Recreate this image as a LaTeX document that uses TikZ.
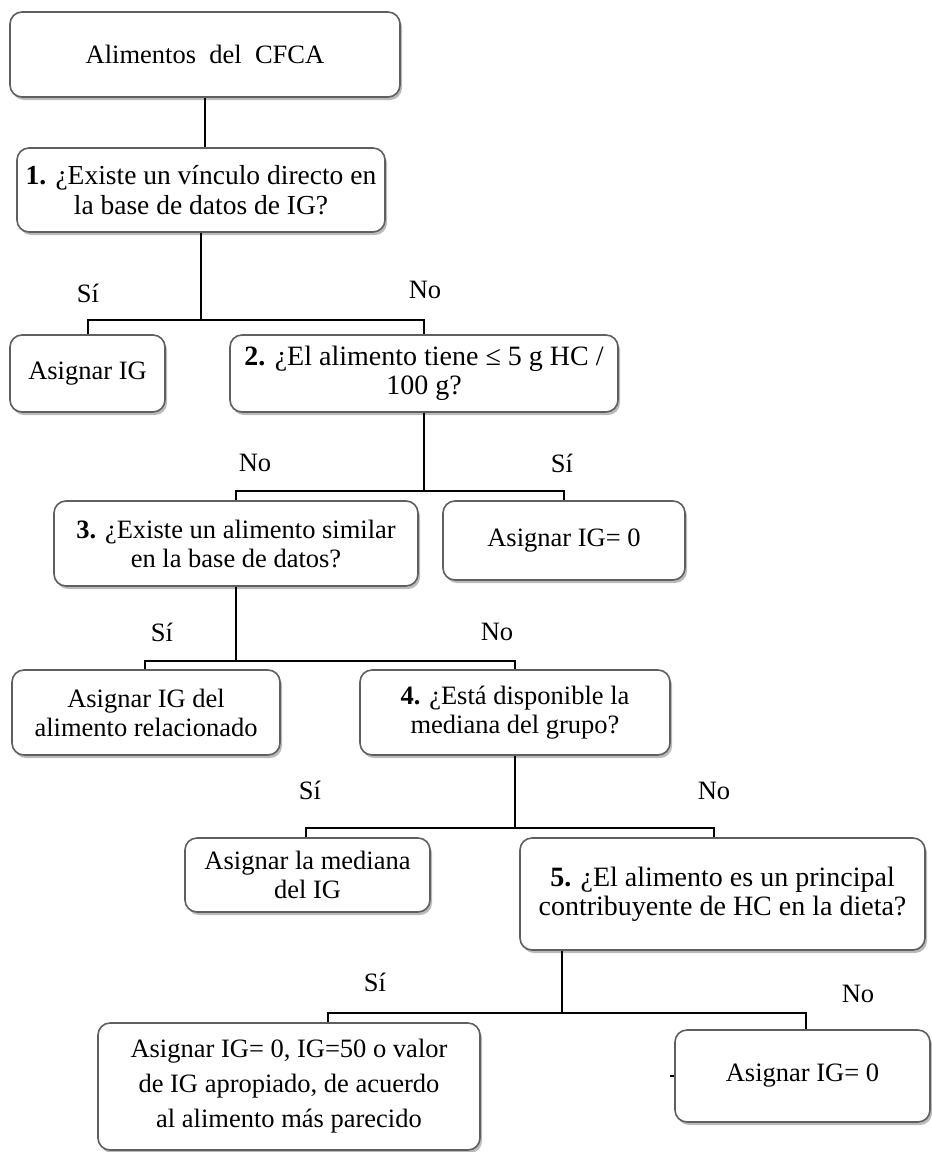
\documentclass[tikz,border=0pt]{standalone}
\usepackage{fontspec}
\setmainfont{Liberation Serif}
\usetikzlibrary{shadows}
\definecolor{bordecaja}{RGB}{95,95,95}

\begin{document}
\begin{tikzpicture}[x=1pt,y=-1pt,
  every node/.style={font=\fontsize{26.5}{29}\selectfont},
  caja/.style={draw=bordecaja,line width=1.6pt,rounded corners=12pt,
    fill=white,align=center,inner sep=2pt,
    drop shadow={shadow xshift=2pt,shadow yshift=-3pt,opacity=0.45,
      fill=black!60}},
  linea/.style={black,line width=1.8pt}]
\useasboundingbox (0,0) rectangle (932,1152);
% cajas
\node[caja,minimum width=390pt,minimum height=85pt] (nA) at (205,54.5)
  {Alimentos\ \ del\ \ CFCA};
\node[caja,minimum width=368pt,minimum height=84pt,
  font=\fontsize{27.5}{30}\selectfont] (n1) at (201,190)
  {\textbf{1.} ¿Existe un vínculo directo en\\ la base de datos de IG?};
\node[caja,minimum width=155pt,minimum height=77pt] (nS1) at (87.5,373.5)
  {Asignar IG};
\node[caja,minimum width=388pt,minimum height=77pt,
  font=\fontsize{28}{29}\selectfont] (n2) at (424,373.5)
  {\textbf{2.} ¿El alimento tiene ≤ 5 g HC /\\ 100 g?};
\node[caja,minimum width=364pt,minimum height=85pt] (n3) at (236,543.5)
  {\textbf{3.} ¿Existe un alimento similar\\ en la base de datos?};
\node[caja,minimum width=242pt,minimum height=79pt] (nS2) at (564,540.5)
  {Asignar IG= 0};
\node[caja,minimum width=268pt,minimum height=85pt] (nS3) at (146,712.5)
  {Asignar IG del\\ alimento relacionado};
\node[caja,minimum width=310pt,minimum height=85pt] (n4) at (515,712.5)
  {\textbf{4.} ¿Está disponible la\\ mediana del grupo?};
\node[caja,minimum width=245pt,minimum height=74pt] (nS4) at (307.5,875)
  {Asignar la mediana\\ del IG};
\node[caja,minimum width=405pt,minimum height=112pt,
  font=\fontsize{28}{29}\selectfont] (n5) at (722.5,894)
  {\textbf{5.} ¿El alimento es un principal\\ contribuyente de HC en la dieta?};
\node[caja,minimum width=382pt,minimum height=127pt,
  font=\fontsize{26.5}{35}\selectfont] (nS5) at (289,1086.5)
  {Asignar IG= 0, IG=50 o valor\\ de IG apropiado, de acuerdo\\ al alimento más parecido};
\node[caja,minimum width=255pt,minimum height=92pt] (nN5) at (802.5,1076)
  {Asignar IG= 0};
% barras
\coordinate (b1l) at (88,320); \coordinate (b1r) at (424,320);
\coordinate (b2l) at (236,491); \coordinate (b2r) at (564,491);
\coordinate (b3l) at (145,661); \coordinate (b3r) at (515,661);
\coordinate (b4l) at (306,828); \coordinate (b4r) at (714,828);
\coordinate (b5l) at (328,1013); \coordinate (b5r) at (806,1013);
\coordinate (b5m) at (562,1013);
% conectores
\draw[linea] (nA.south) -- (nA.south |- n1.north);
\draw[linea] (n1.south) -- (n1.south |- b1l);
\draw[linea] (b1l |- nS1.north) -- (b1l) -- (b1r) -- (b1r |- n2.north);
\draw[linea] (n2.south) -- (n2.south |- b2l);
\draw[linea] (b2l |- n3.north) -- (b2l) -- (b2r) -- (b2r |- nS2.north);
\draw[linea] (n3.south) -- (n3.south |- b3l);
\draw[linea] (b3l |- nS3.north) -- (b3l) -- (b3r) -- (b3r |- n4.north);
\draw[linea] (n4.south) -- (n4.south |- b4l);
\draw[linea] (b4l |- nS4.north) -- (b4l) -- (b4r) -- (b4r |- n5.north);
\draw[linea] (b5m |- n5.south) -- (b5m);
\draw[linea] (b5l |- nS5.north) -- (b5l) -- (b5r) -- (b5r |- nN5.north);
\draw[line width=1.2pt] (nN5.west) -- ++(-4,0);
% etiquetas
\node (eS1) at (88,293) {Sí};   \node (eN1) at (425,290) {No};
\node (eN2) at (255,463) {No};  \node (eS2) at (562,463) {Sí};
\node (eS3) at (162,632) {Sí};  \node (eN3) at (497,632) {No};
\node (eS4) at (310,790) {Sí};  \node (eN4) at (714,791) {No};
\node (eS5) at (375,982) {Sí};  \node (eN5) at (858,994) {No};
\end{tikzpicture}
\end{document}
